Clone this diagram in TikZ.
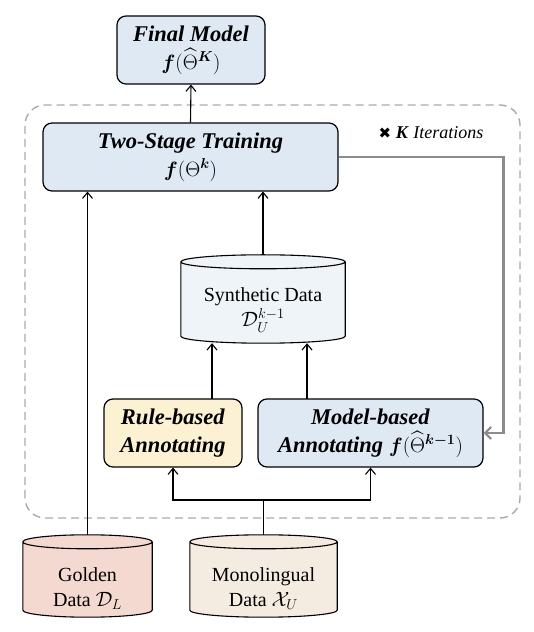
\documentclass[tikz,border=0pt]{standalone}
\usepackage{fontspec}
\usepackage{amsmath,amssymb}
\setmainfont{Liberation Serif}
\newfontfamily\djv{DejaVu Sans}
\usetikzlibrary{arrows.meta,calc}
\definecolor{boxblue}{HTML}{DEE9F4}
\definecolor{boxyellow}{HTML}{FCF1D2}
\definecolor{synblue}{HTML}{EEF4F8}
\definecolor{goldpink}{HTML}{F4D9D0}
\definecolor{monobeige}{HTML}{F5ECE1}
\definecolor{loopgray}{HTML}{8C8C8C}
\definecolor{dashgray}{HTML}{ABABAB}
\tikzset{
  stagebox/.style={draw=black, line width=1.2pt, rounded corners=9pt, align=center,
    font=\fontsize{22.5}{28}\selectfont, inner sep=0pt},
  datanode/.style={draw=none, align=center, font=\fontsize{20}{25}\selectfont, inner sep=0pt},
  conn/.style={line width=1.1pt, -{Straight Barb[length=6pt,width=10pt,line width=1.1pt]}},
  plain/.style={line width=1.1pt},
  loop/.style={draw=loopgray, line width=2.4pt, -{Straight Barb[length=6pt,width=12pt,line width=2.2pt]}},
}
\newcommand{\cylpath}[3]{% node name, fill colour, y radius
  \path let \p1=(#1.south west), \p2=(#1.north east), \n1={(\x2-\x1)/2} in
    [draw=black, line width=1.1pt, fill=#2]
    (\x1,\y2-#3) -- (\x1,\y1+#3) arc[start angle=180,end angle=360,x radius=\n1,y radius=#3]
    -- (\x2,\y2-#3) arc[start angle=0,end angle=180,x radius=\n1,y radius=#3] -- cycle
    (\x1,\y2-#3) arc[start angle=180,end angle=360,x radius=\n1,y radius=#3];
}
\begin{document}
\begin{tikzpicture}[x=1pt,y=1pt]
\useasboundingbox (0,0) rectangle (534,632);
% dashed iteration frame
\draw[dashgray, line width=1.4pt, dash pattern=on 8pt off 5pt, rounded corners=20pt]
  (25,114) rectangle (520,527);
% nodes
\node[stagebox, fill=boxblue, minimum width=148pt, minimum height=68pt] (final) at (191,582)
  {\textbf{\textit{Final Model}}\\$\boldsymbol{f}(\widehat{\Theta}^{\boldsymbol{K}})$};
\node[stagebox, fill=boxblue, minimum width=295pt, minimum height=68pt] (two) at (190.5,475)
  {\textbf{\textit{Two-Stage Training}}\\$\boldsymbol{f}(\Theta^{\boldsymbol{k}})$};
\node[stagebox, fill=boxyellow, minimum width=138pt, minimum height=68pt] (rule) at (173,199)
  {\textbf{\textit{Rule-based}}\\\textbf{\textit{Annotating}}};
\node[stagebox, fill=boxblue, minimum width=225pt, minimum height=68pt] (model) at (370.5,199)
  {\textbf{\textit{Model-based}}\\\textbf{\textit{Annotating}} $\boldsymbol{f}(\widehat{\Theta}^{\boldsymbol{k-1}})$};
\node[font=\fontsize{18}{20}\selectfont, inner sep=0pt] (iter) at (431,499)
  {{\djv\fontsize{15}{18}\selectfont ✖} \textbf{\textit{K}} \textit{Iterations}};
% cylinders
\node[datanode, minimum width=164pt, minimum height=88pt] (synth) at (263,333) {};
\cylpath{synth}{synblue}{7pt}
\node[datanode] at (263,322) {Synthetic Data\\$\mathcal{D}_U^{k-1}$};
\node[datanode, minimum width=129pt, minimum height=82pt] (gold) at (87.5,56) {};
\cylpath{gold}{goldpink}{7pt}
\node[datanode] at (87.5,43) {Golden\\Data $\mathcal{D}_L$};
\node[datanode, minimum width=147pt, minimum height=82pt] (mono) at (263.5,56) {};
\cylpath{mono}{monobeige}{7pt}
\node[datanode] at (263.5,43) {Monolingual\\Data $\mathcal{X}_U$};
\coordinate (split) at (263.5,132);
\coordinate (ra) at (212,233);
\coordinate (ma) at (307,233);
% connectors
\draw[conn] (two.north) -- (final.south);
\draw[conn] (gold.north) -- (gold.north |- two.south);
\draw[conn] (synth.north) -- (synth.north |- two.south);
\draw[conn] (ra) -- (ra |- synth.south);
\draw[conn] (ma) -- (ma |- synth.south);
\draw[plain] (mono.north) -- (split);
\draw[conn] (split) -| (rule.south);
\draw[conn] (split) -| (model.south);
\draw[loop] (two.east) -- ++(165,0) |- (model.east);
\end{tikzpicture}
\end{document}
